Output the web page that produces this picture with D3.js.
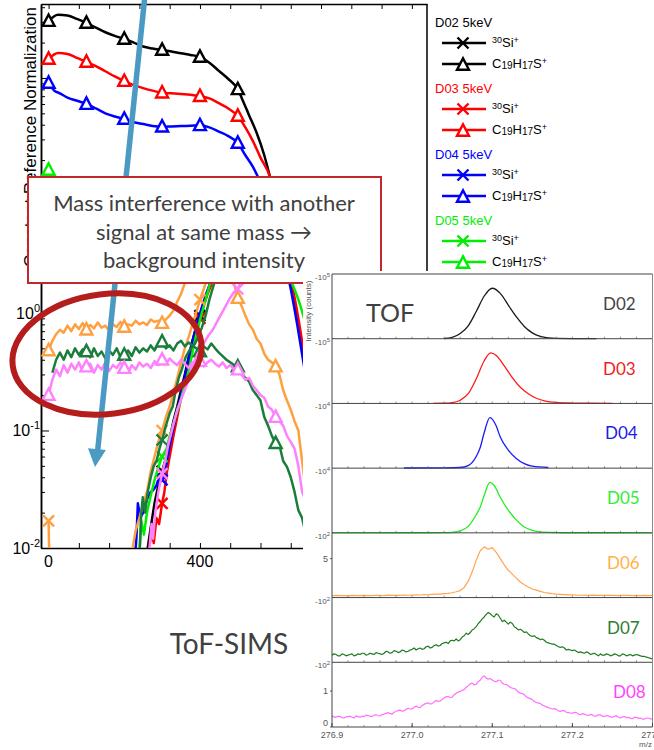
<!DOCTYPE html>
<html>
<head>
<meta charset="utf-8">
<script src="https://cdn.jsdelivr.net/npm/d3@7"></script>
<style>
  html, body { margin: 0; padding: 0; background: #ffffff; }
  svg { display: block; }
</style>
</head>
<body>
<svg id="fig" width="654" height="750"></svg>
<script>
// ---------------- depth profiles: [depth, normalized intensity] ----------------
const samples = ["D02", "D03", "D04", "D05", "D06", "D07", "D08"];
const sampleColors = ["#000000", "#ff0000", "#0000ff", "#00ee00", "#ffa040", "#1a7d3c", "#ff80ff"];
const depthLabels = [0, 400, 800];
const intensityLabels = [0.01, 0.1, 1];

const d02_C19H17S = [[0,305],[25,345],[50,340],[75,318],[100,294],[125,268],[150,245],[175,228],[200,215],[225,200],[250,185],[275,178],[300,173],[325,168],[350,162],[375,157],[400,151],[425,135],[450,115],[475,98],[500,80],[510,68],[530,48],[550,34],[570,22],[585,14.4],[610,6],[640,1.8],[660,0.8],[690,0.2],[720,0.05]];
const d03_C19H17S = [[0,145],[25,163],[50,160],[75,148],[100,137],[125,126],[150,114],[175,103],[200,94],[225,87],[250,82],[275,78],[300,75],[325,74],[350,73],[375,72],[400,70],[425,67],[450,61],[475,55],[500,47.5],[520,38],[540,29],[560,21],[585,14.4],[610,6.5],[640,2],[660,0.9],[690,0.22],[720,0.05]];
const d04_C19H17S = [[0,90.7],[15,78],[30,74],[50,68],[75,64],[100,60],[125,55],[150,50],[175,47],[200,44.8],[225,42],[250,40.5],[275,39],[300,38.5],[325,38.7],[350,39],[375,39.2],[400,39.5],[425,38],[450,35],[475,32],[500,28],[520,22],[540,17.5],[555,14],[580,9],[610,4],[640,1.6],[660,0.7],[690,0.18],[720,0.04]];
const d05_C19H17S = [[0,16.5],[25,12],[50,10.5],[100,10],[200,9.8],[300,9.6],[400,9.5],[500,9],[550,7],[600,3.8],[640,1.9],[660,1.3],[675,0.9],[700,0.35],[720,0.12]];
const d06_C19H17S = [[0,0.48],[10,0.58],[20,0.66],[30,0.72],[40,0.68],[50,0.78],[60,0.70],[70,0.80],[80,0.73],[90,0.82],[100,0.72],[110,0.79],[120,0.74],[130,0.83],[140,0.75],[150,0.78],[160,0.71],[170,0.80],[180,0.76],[190,0.84],[200,0.76],[210,0.80],[220,0.78],[230,0.86],[240,0.80],[250,0.83],[260,0.79],[270,0.88],[280,0.84],[290,0.86],[300,0.82],[310,0.88],[320,0.95],[330,1.05],[340,1.25],[350,1.45],[360,1.8],[370,2.2],[380,2.8],[400,3.5],[420,4],[440,4],[460,3.2],[480,2.2],[490,1.8],[500,1.34],[510,1.15],[520,0.95],[530,0.8],[540,0.72],[550,0.6],[560,0.55],[570,0.45],[580,0.4],[590,0.38],[600,0.35],[610,0.3],[620,0.22],[630,0.18],[640,0.15],[650,0.12],[660,0.1],[670,0.055],[680,0.03],[700,0.015]];
const d07_C19H17S = [[10,0.31],[20,0.40],[30,0.46],[40,0.40],[50,0.48],[60,0.42],[70,0.50],[80,0.44],[90,0.49],[100,0.47],[110,0.42],[120,0.50],[130,0.43],[140,0.47],[150,0.41],[160,0.48],[170,0.44],[180,0.50],[190,0.42],[200,0.44],[210,0.48],[220,0.43],[230,0.51],[240,0.46],[250,0.50],[260,0.47],[270,0.53],[280,0.48],[290,0.55],[300,0.57],[310,0.50],[320,0.53],[330,0.48],[340,0.55],[350,0.58],[360,0.52],[370,0.56],[380,0.53],[390,0.50],[400,0.47],[410,0.52],[420,0.49],[430,0.55],[440,0.50],[450,0.46],[460,0.43],[470,0.40],[480,0.38],[490,0.36],[500,0.35],[510,0.30],[520,0.28],[530,0.26],[540,0.22],[550,0.20],[560,0.18],[570,0.13],[580,0.11],[590,0.09],[600,0.078],[610,0.075],[620,0.055],[630,0.049],[640,0.04],[650,0.03],[660,0.021],[670,0.018],[680,0.013],[700,0.008]];
const d08_C19H17S = [[0,0.2],[10,0.27],[20,0.33],[30,0.29],[40,0.36],[50,0.31],[60,0.37],[70,0.33],[80,0.38],[90,0.32],[100,0.35],[110,0.37],[120,0.31],[130,0.36],[140,0.33],[150,0.38],[160,0.32],[170,0.36],[180,0.34],[190,0.38],[200,0.34],[210,0.31],[220,0.36],[230,0.33],[240,0.38],[250,0.35],[260,0.37],[270,0.34],[280,0.39],[290,0.36],[300,0.40],[310,0.37],[320,0.41],[330,0.38],[340,0.36],[350,0.40],[360,0.37],[370,0.34],[380,0.38],[390,0.36],[400,0.39],[410,0.35],[420,0.38],[430,0.40],[440,0.37],[450,0.35],[460,0.38],[470,0.34],[480,0.36],[490,0.33],[500,0.33],[510,0.30],[520,0.27],[530,0.28],[540,0.24],[550,0.22],[560,0.20],[570,0.19],[580,0.16],[590,0.15],[600,0.13],[610,0.12],[620,0.11],[630,0.09],[640,0.08],[650,0.07],[660,0.05],[670,0.03],[680,0.025],[700,0.015]];

const d02_Si30 = [[240,0.005],[262,0.01],[270,0.015],[280,0.024],[290,0.034],[300,0.045],[310,0.058],[320,0.085],[330,0.12],[340,0.16],[350,0.22],[360,0.3],[370,0.42],[380,0.58],[390,0.75],[400,0.95],[410,1.2],[420,1.5],[440,2.2],[460,3],[480,3.8],[500,4.3],[550,4.8],[600,4.8],[650,4.2],[700,3],[760,1.8]];
const d03_Si30 = [[250,0.005],[266,0.01],[272,0.014],[278,0.011],[285,0.018],[292,0.016],[300,0.024],[306,0.03],[312,0.043],[320,0.06],[330,0.09],[340,0.13],[350,0.19],[360,0.27],[370,0.38],[380,0.52],[390,0.7],[400,0.9],[410,1.15],[420,1.45],[440,2.1],[460,2.9],[480,3.6],[500,4.1],[550,4.6],[600,4.6],[650,4],[700,2.9],[760,1.7]];
const d04_Si30 = [[225,0.006],[232,0.012],[236,0.024],[242,0.018],[250,0.02],[260,0.026],[270,0.03],[276,0.031],[285,0.034],[292,0.04],[300,0.038],[306,0.045],[312,0.053],[320,0.075],[328,0.1],[338,0.14],[347,0.18],[356,0.25],[366,0.35],[376,0.5],[386,0.68],[396,0.9],[406,1.15],[418,1.5],[440,2.3],[460,3.1],[480,3.9],[500,4.4],[550,4.9],[600,4.9],[650,4.3],[700,3.1],[760,1.9]];
const d05_Si30 = [[235,0.006],[241,0.01],[245,0.017],[252,0.013],[260,0.02],[270,0.028],[282,0.04],[294,0.053],[300,0.06],[312,0.07],[318,0.085],[325,0.1],[335,0.13],[347,0.17],[356,0.22],[365,0.27],[375,0.38],[385,0.55],[395,0.75],[405,1.0],[415,1.3],[425,1.7],[440,2.3],[460,3.1],[480,3.9],[500,4.4],[550,4.9],[600,4.9],[650,4.3],[700,3.1],[760,1.9]];
const d06_Si30 = [[0,0.017],[4,0.004],[215,0.004],[222,0.01],[230,0.014],[240,0.018],[250,0.024],[260,0.03],[270,0.045],[280,0.06],[290,0.08],[300,0.1],[310,0.13],[320,0.16],[330,0.21],[340,0.28],[350,0.38],[360,0.5],[370,0.62],[380,0.8],[390,1.0],[400,1.3],[410,1.6],[420,2],[450,3.5],[480,4.2],[550,5],[650,5],[750,3]];
const d07_Si30 = [[232,0.005],[241,0.01],[245,0.02],[249,0.027],[255,0.02],[262,0.03],[270,0.04],[278,0.05],[286,0.056],[293,0.07],[300,0.083],[310,0.11],[320,0.14],[328,0.16],[336,0.22],[344,0.28],[352,0.33],[362,0.42],[372,0.48],[387,0.55],[395,0.62],[405,0.75],[415,0.95],[425,1.3],[440,1.9],[460,2.8],[480,3.6],[500,4.2],[550,4.8],[650,4.5],[750,2.5]];
const d08_Si30 = [[255,0.005],[267,0.01],[272,0.016],[276,0.012],[282,0.02],[290,0.03],[300,0.043],[308,0.055],[316,0.075],[328,0.107],[340,0.15],[352,0.19],[366,0.25],[381,0.37],[395,0.45],[410,0.55],[422,0.64],[434,0.72],[450,0.9],[465,1.1],[480,1.35],[490,1.5],[500,1.6],[520,2.3],[550,3.3],[650,4],[750,2.5]];

const si30Series = [d02_Si30, d03_Si30, d04_Si30, d05_Si30, d06_Si30, d07_Si30, d08_Si30];
const c19Series = [d02_C19H17S, d03_C19H17S, d04_C19H17S, d05_C19H17S, d06_C19H17S, d07_C19H17S, d08_C19H17S];

// ---------------- TOF spectra around m/z 277.1 ----------------
const mzLabels = [276.9, 277.0, 277.1, 277.2, 277.3];
const spectrumExponent = [5, 5, 4, 4, 2, 2, 2];
const spectrumTop = [1, 1, 1, 1, 8.3, 1, 1.8];
const spectrumTickLabels = [[], [], [], [], [5], [], [0, 1]];

const d02_spectrum = [[277.04,0.003],[277.05,0.02],[277.06,0.08],[277.07,0.20],[277.08,0.42],[277.09,0.66],[277.10,0.78],[277.11,0.70],[277.12,0.52],[277.13,0.34],[277.14,0.19],[277.15,0.09],[277.16,0.035],[277.17,0.012],[277.18,0.004],[277.20,0.0015],[277.23,0.001]];
const d03_spectrum = [[277.026,0.001],[277.04,0.003],[277.05,0.012],[277.06,0.05],[277.07,0.15],[277.08,0.38],[277.09,0.66],[277.098,0.78],[277.105,0.74],[277.115,0.58],[277.125,0.40],[277.135,0.25],[277.145,0.15],[277.155,0.08],[277.165,0.04],[277.18,0.015],[277.20,0.006],[277.22,0.003],[277.25,0.002]];
const d04_spectrum = [[276.99,0.002],[277.04,0.004],[277.06,0.01],[277.07,0.04],[277.08,0.18],[277.085,0.32],[277.09,0.55],[277.097,0.78],[277.105,0.65],[277.11,0.48],[277.12,0.28],[277.13,0.15],[277.14,0.07],[277.15,0.03],[277.17,0.01]];
const d05_spectrum = [[276.9,0.001],[277.0,0.0015],[277.04,0.003],[277.05,0.008],[277.06,0.03],[277.07,0.10],[277.08,0.28],[277.085,0.40],[277.09,0.58],[277.097,0.78],[277.103,0.72],[277.11,0.55],[277.12,0.35],[277.13,0.20],[277.14,0.09],[277.15,0.04],[277.16,0.015],[277.18,0.005],[277.2,0.002],[277.3,0.001]];
// D06 sampled every 0.005, D07 and D08 every 0.0025, from m/z 276.900 to 277.300
const d06_counts = [0.22,0.27,0.24,0.26,0.23,0.28,0.25,0.24,0.29,0.26,0.25,0.30,0.27,0.26,0.31,0.28,0.30,0.27,0.33,0.30,
  0.32,0.35,0.33,0.38,0.36,0.42,0.45,0.43,0.50,0.55,0.62,0.75,
  0.9,1.3,2.1,3.3,4.8,6.0,6.5,6.2,6.4,5.8,5.0,4.2,3.5,3.0,2.5,2.0,1.65,1.35,1.1,0.95,0.8,0.65,0.58,0.5,0.45,0.42,0.38,0.35,0.36,0.32,
  0.30,0.33,0.29,0.31,0.28,0.30,0.27,0.29,0.30,0.26,0.28,0.27,0.29,0.25,0.27,0.26,0.28,0.25,0.27];
const d07_counts = [
  .11,.13,.12,.10,.10,.13,.12,.10,.11,.12,.13,.10,.11,.13,.12,.14,.14,.11,.12,.14,
  .13,.12,.15,.14,.13,.12,.14,.17,.16,.14,.15,.18,.17,.15,.16,.19,.18,.16,.17,.19,
  .20,.22,.19,.21,.22,.20,.21,.24,.25,.22,.23,.26,.27,.25,.26,.29,.30,.31,.29,.33,
  .34,.33,.36,.33,.35,.39,.41,.45,.43,.46,.50,.52,.55,.60,.63,.67,.70,.74,.77,.75,
  .72,.70,.75,.73,.68,.63,.65,.62,.59,.62,.60,.55,.53,.50,.51,.49,.46,.47,.44,.41,
  .40,.41,.38,.37,.35,.36,.34,.31,.30,.29,.28,.28,.26,.24,.23,.24,.22,.19,.20,.19,
  .18,.19,.17,.15,.16,.15,.14,.16,.15,.12,.13,.14,.12,.10,.13,.11,.11,.13,.12,.10,
  .11,.13,.12,.10,.10,.13,.12,.10,.11,.12,.10,.11,.12,.11,.10,.09,.09,.08,.07,.06,.05];
const d08_counts = [
  .31,.28,.27,.30,.29,.26,.25,.28,.29,.30,.27,.25,.31,.29,.27,.30,.29,.33,.32,.30,
  .29,.33,.34,.32,.31,.35,.36,.38,.40,.37,.36,.41,.43,.46,.47,.44,.45,.49,.52,.50,
  .50,.55,.58,.55,.54,.60,.63,.66,.67,.64,.65,.70,.74,.71,.72,.77,.81,.84,.85,.82,
  .83,.90,.94,.97,.99,1.02,1.04,1.10,1.15,1.20,1.22,1.17,1.19,1.26,1.30,1.38,1.42,1.36,1.33,1.35,
  1.31,1.27,1.26,1.30,1.30,1.22,1.19,1.18,1.15,1.10,1.08,1.07,1.04,.97,.94,.93,.90,.84,.81,.79,
  .76,.71,.68,.67,.65,.61,.59,.56,.54,.52,.50,.51,.49,.45,.43,.46,.45,.41,.40,.39,
  .38,.41,.40,.36,.34,.37,.36,.33,.32,.35,.34,.30,.31,.34,.34,.30,.29,.32,.31,.28,
  .27,.30,.31,.27,.25,.28,.29,.26,.27,.24,.23,.27,.27,.24,.25,.22,.22,.25,.25,.22,.23];
const mzCoarse = d3.range(81).map(i => +(276.9 + i * 0.005).toFixed(4));
const mzFine = d3.range(161).map(i => +(276.9 + i * 0.0025).toFixed(4));

const spectra = [
  d02_spectrum, d03_spectrum, d04_spectrum, d05_spectrum,
  mzCoarse.map((m, i) => [m, d06_counts[i]]),
  mzFine.map((m, i) => [m, d07_counts[i]]),
  mzFine.map((m, i) => [m, d08_counts[i]])
];
const spectrumColors = ["#1a1a1a", "#ff1a1a", "#1a1aff", "#22ee22", "#ffa54f", "#1e7b1e", "#ff6eff"];
const spectrumLabelColors = ["#444444", "#ee1c1c", "#1c1ce6", "#33ee33", "#ffb347", "#2e7d32", "#ff44ff"];

// ======================================================================
const svg = d3.select("#fig");
const CHART_FONT = "'Liberation Sans', Arial, sans-serif";
const SLIDE_FONT = "Lato, 'Open Sans', sans-serif";

// ---------- depth profile frame ----------
const P = { left: 41, top: 4, right: 427, bottom: 548 };
const x = d3.scaleLinear().domain([-20, 1000]).range([P.left, P.right]);
const y = d3.scaleLog().domain([0.01, 426]).range([P.bottom, P.top]);

svg.append("defs").append("clipPath").attr("id", "plotClip")
  .append("rect").attr("x", P.left).attr("y", P.top)
  .attr("width", P.right - P.left).attr("height", P.bottom - P.top);

const depthTicks = d3.range(0, 1001, 80);
const styleAxis = g => {
  g.selectAll("path.domain").attr("stroke", "#000").attr("stroke-width", 1.5);
  g.selectAll(".tick line").attr("stroke", "#000").attr("stroke-width", 1);
};
svg.append("g").attr("transform", `translate(0,${P.bottom})`)
  .call(d3.axisBottom(x).tickValues(depthTicks).tickSize(-5).tickSizeOuter(0).tickFormat(""))
  .call(styleAxis);
svg.append("g").attr("transform", `translate(0,${P.top})`)
  .call(d3.axisTop(x).tickValues(depthTicks).tickSize(-5).tickSizeOuter(0).tickFormat(""))
  .call(styleAxis);

const logTicks = y.ticks();
const isDecade = v => Math.abs(Math.log10(v) - Math.round(Math.log10(v))) < 1e-9;
svg.append("g").attr("transform", `translate(${P.left},0)`)
  .call(d3.axisLeft(y).tickValues(logTicks.filter(v => !isDecade(v))).tickSize(-4).tickSizeOuter(0).tickFormat(""))
  .call(styleAxis);
svg.append("g").attr("transform", `translate(${P.left},0)`)
  .call(d3.axisLeft(y).tickValues(logTicks.filter(isDecade)).tickSize(-8).tickSizeOuter(0).tickFormat(""))
  .call(styleAxis);
svg.append("line").attr("x1", P.right).attr("x2", P.right).attr("y1", P.top).attr("y2", P.bottom)
  .attr("stroke", "#000").attr("stroke-width", 1.5);

// tick labels
svg.append("g").selectAll("text").data(depthLabels).join("text")
  .attr("x", d => x(d)).attr("y", P.bottom + 19)
  .attr("text-anchor", "middle").attr("font-family", CHART_FONT).attr("font-size", 16)
  .text(d => d);
const yl = svg.append("g").selectAll("text").data(intensityLabels).join("text")
  .attr("x", P.left - 1).attr("y", d => y(d) + 6)
  .attr("text-anchor", "end").attr("font-family", CHART_FONT).attr("font-size", 16);
yl.append("tspan").text("10");
yl.append("tspan").attr("font-size", 11).attr("dy", -7).text(d => String(Math.round(Math.log10(d))));

svg.append("text")
  .attr("transform", `translate(36,137) rotate(-90)`)
  .attr("text-anchor", "middle").attr("font-family", CHART_FONT).attr("font-size", 17)
  .text("Constant Reference Normalization");

// ---------- profile lines and markers ----------
const plot = svg.append("g").attr("clip-path", "url(#plotClip)");
const smoothLine = d3.line().x(d => x(d[0])).y(d => y(d[1])).curve(d3.curveMonotoneX);
const rawLine = d3.line().x(d => x(d[0])).y(d => y(d[1]));

function triangle(g, cx, cy, s, color) {
  g.append("path")
    .attr("d", `M${cx},${cy - s * 0.55}L${cx + s / 2},${cy + s * 0.4}L${cx - s / 2},${cy + s * 0.4}Z`)
    .attr("fill", "#fff").attr("stroke", color).attr("stroke-width", 2.4).attr("stroke-linejoin", "miter");
}
function cross(g, cx, cy, s, color) {
  const h = s / 2;
  g.append("path")
    .attr("d", `M${cx - h},${cy - h}L${cx + h},${cy + h}M${cx - h},${cy + h}L${cx + h},${cy - h}`)
    .attr("fill", "none").attr("stroke", color).attr("stroke-width", 2.4);
}

samples.forEach((s, i) => {
  const col = sampleColors[i];
  const si = si30Series[i];
  plot.append("path").attr("d", rawLine(si)).attr("fill", "none")
    .attr("stroke", col).attr("stroke-width", 2.5).attr("stroke-linejoin", "round");
  si.filter(d => d[0] % 100 === 0).forEach(d => cross(plot, x(d[0]), y(d[1]), 11, col));

  const c = c19Series[i];
  plot.append("path").attr("d", (i < 4 ? smoothLine : rawLine)(c)).attr("fill", "none")
    .attr("stroke", col).attr("stroke-width", 2.5).attr("stroke-linejoin", "round");
  c.filter(d => d[0] % 100 === 0).forEach(d => triangle(plot, x(d[0]), y(d[1]), 12, col));
});

// ---------- annotations over the profile ----------
// depth arrow
const arrowColor = "#4a9ac4";
svg.append("line").attr("x1", 145).attr("y1", -5).attr("x2", 97.5).attr("y2", 452)
  .attr("stroke", arrowColor).attr("stroke-width", 5.5);
svg.append("path").attr("d", "M95,467L105.9,450L88,448.2Z").attr("fill", arrowColor);

// background-intensity ellipse
svg.append("ellipse").attr("cx", 107).attr("cy", 354).attr("rx", 95).attr("ry", 60)
  .attr("transform", "rotate(-7 107 354)")
  .attr("fill", "none").attr("stroke", "#b51c1c").attr("stroke-width", 6);

// callout box
svg.append("rect").attr("x", 28).attr("y", 177).attr("width", 353).attr("height", 106)
  .attr("fill", "#fff").attr("stroke", "#c0282d").attr("stroke-width", 2);
const calloutLines = ["Mass interference with another", "signal at same mass \u2192", "background intensity"];
svg.append("g").selectAll("text").data(calloutLines).join("text")
  .attr("x", 204).attr("y", (d, i) => 211 + i * 28.5)
  .attr("text-anchor", "middle").attr("font-family", SLIDE_FONT).attr("font-size", 22)
  .attr("fill", "#404040").text(d => d);

// ---------- legend ----------
const legend = svg.append("g");
samples.slice(0, 4).forEach((s, i) => {
  const col = sampleColors[i];
  const top = 27 + i * 66;
  legend.append("text").attr("x", 435).attr("y", top)
    .attr("font-family", CHART_FONT).attr("font-size", 13).attr("fill", col).text(`${s} 5keV`);
  [16, 37].forEach((dy, k) => {
    const ly = top + dy;
    legend.append("line").attr("x1", 442).attr("x2", 486).attr("y1", ly).attr("y2", ly)
      .attr("stroke", col).attr("stroke-width", 2.5);
    if (k === 0) cross(legend, 463, ly, 11, col); else triangle(legend, 463, ly + 1, 12, col);
    const t = legend.append("text").attr("x", 492).attr("y", ly + 4)
      .attr("font-family", CHART_FONT).attr("font-size", 13).attr("fill", "#000");
    if (k === 0) {
      t.append("tspan").attr("font-size", 9).attr("dy", -4).text("30");
      t.append("tspan").attr("dy", 4).text("Si");
      t.append("tspan").attr("font-size", 9).attr("dy", -4).text("+");
    } else {
      t.append("tspan").text("C");
      t.append("tspan").attr("font-size", 10).attr("dy", 1).text("19");
      t.append("tspan").attr("dy", -1).text("H");
      t.append("tspan").attr("font-size", 10).attr("dy", 1).text("17");
      t.append("tspan").attr("dy", -1).text("S");
      t.append("tspan").attr("font-size", 9).attr("dy", -4).text("+");
    }
  });
});

// ---------- TOF spectra inset ----------
const I = { left: 332, right: 652.5, top: 274, bottom: 727 };
svg.append("rect").attr("x", 303).attr("y", 271).attr("width", 351).attr("height", 479).attr("fill", "#fff");
const mz = d3.scaleLinear().domain([276.9, 277.3]).range([I.left, I.right]);
const panelH = (I.bottom - I.top) / samples.length;
const labelX = [603, 603, 605, 607, 607, 607, 613];
const inset = svg.append("g");

samples.forEach((s, i) => {
  const pTop = I.top + i * panelH;
  const pBot = pTop + panelH;
  const py = d3.scaleLinear().domain([0, spectrumTop[i]]).range([pBot, pTop]);
  const line = d3.line().x(d => mz(d[0])).y(d => py(d[1]))
    .curve(i < 4 ? d3.curveMonotoneX : d3.curveLinear);
  inset.append("path").attr("d", line(spectra[i])).attr("fill", "none")
    .attr("stroke", spectrumColors[i]).attr("stroke-width", i < 4 ? 1.3 : 1.2)
    .attr("stroke-linejoin", "round");
  // panel top edge with small ticks
  inset.append("line").attr("x1", I.left).attr("x2", I.right).attr("y1", pTop).attr("y2", pTop)
    .attr("stroke", "#444").attr("stroke-width", 1);
  inset.append("g").selectAll("line").data(d3.range(276.92, 277.3, 0.02)).join("line")
    .attr("x1", d => mz(d)).attr("x2", d => mz(d)).attr("y1", pBot).attr("y2", pBot - 2)
    .attr("stroke", "#777").attr("stroke-width", 0.8);
  // axis multiplier label at the top tick
  const ml = inset.append("text").attr("x", I.left - 2).attr("y", pTop + 6)
    .attr("text-anchor", "end").attr("font-family", CHART_FONT).attr("font-size", 8).attr("fill", "#555");
  ml.append("tspan").text("-10");
  ml.append("tspan").attr("font-size", 6).attr("dy", -3).text(spectrumExponent[i]);
  // numeric ticks on the panel axis
  spectrumTickLabels[i].forEach(v => {
    inset.append("text").attr("x", I.left - 4).attr("y", Math.min(py(v) + 3, pBot - 1))
      .attr("text-anchor", "end").attr("font-family", CHART_FONT).attr("font-size", 9).attr("fill", "#555").text(v);
    inset.append("line").attr("x1", I.left - 2).attr("x2", I.left).attr("y1", py(v)).attr("y2", py(v))
      .attr("stroke", "#555");
  });
  inset.append("text").attr("x", labelX[i]).attr("y", pTop + 36)
    .attr("font-family", SLIDE_FONT).attr("font-size", 17).attr("fill", spectrumLabelColors[i]).text(s);
});
inset.append("line").attr("x1", I.left).attr("x2", I.right).attr("y1", I.bottom).attr("y2", I.bottom)
  .attr("stroke", "#444").attr("stroke-width", 1);
inset.append("line").attr("x1", I.left).attr("x2", I.left).attr("y1", I.top).attr("y2", I.bottom)
  .attr("stroke", "#444").attr("stroke-width", 1);
inset.append("line").attr("x1", I.right).attr("x2", I.right).attr("y1", I.top).attr("y2", I.bottom)
  .attr("stroke", "#888").attr("stroke-width", 1);
inset.append("g").selectAll("line").data(mzLabels).join("line")
  .attr("x1", d => mz(d)).attr("x2", d => mz(d)).attr("y1", I.bottom).attr("y2", I.bottom - 4)
  .attr("stroke", "#444");
inset.append("g").selectAll("text").data(mzLabels).join("text")
  .attr("x", d => mz(d)).attr("y", I.bottom + 11)
  .attr("text-anchor", "middle").attr("font-family", CHART_FONT).attr("font-size", 9).attr("fill", "#555")
  .text(d => d.toFixed(1));
inset.append("text").attr("x", 652).attr("y", 747).attr("text-anchor", "end")
  .attr("font-family", CHART_FONT).attr("font-size", 8).attr("fill", "#555").text("m/z");
inset.append("text").attr("transform", "translate(311,311) rotate(-90)")
  .attr("text-anchor", "middle").attr("font-family", CHART_FONT).attr("font-size", 8).attr("fill", "#555")
  .text("Intensity (counts)");
inset.append("text").attr("x", 366).attr("y", 322)
  .attr("font-family", SLIDE_FONT).attr("font-size", 25).attr("fill", "#404040").text("TOF");

// ---------- caption ----------
svg.append("text").attr("x", 229).attr("y", 654).attr("text-anchor", "middle")
  .attr("font-family", SLIDE_FONT).attr("font-size", 28).attr("fill", "#404040").text("ToF-SIMS");
</script>
</body>
</html>
